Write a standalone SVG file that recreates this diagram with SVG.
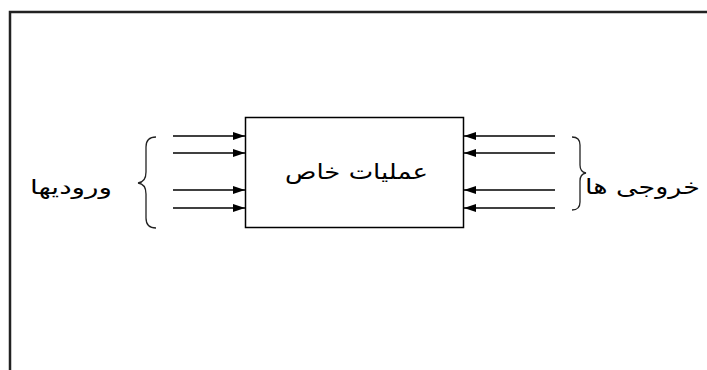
<svg xmlns="http://www.w3.org/2000/svg" width="707" height="370" viewBox="0 0 707 370">
<defs>
<marker id="ah" viewBox="0 0 12 8" refX="12" refY="4" markerWidth="12" markerHeight="8" markerUnits="userSpaceOnUse" orient="auto">
<path d="M0,0 L12,4 L0,8 Z" fill="#000"/>
</marker>
</defs>
<style>
.ln{stroke:#000;stroke-width:1.5;fill:none}
.br{stroke:#222;stroke-width:1.3;fill:none}
.t{font-family:"DejaVu Sans",sans-serif;fill:#000;direction:rtl}
</style>
<rect width="707" height="370" fill="#fff"/>
<g id="frame">
<path d="M10,370 V12 H707" stroke="#222" stroke-width="2.5" fill="none"/>
</g>
<g id="process">
<rect x="245.5" y="117.5" width="218" height="110" fill="#fff" stroke="#000" stroke-width="1.5"/>
<text class="t" x="356.5" y="179" font-size="21" text-anchor="middle" textLength="143" lengthAdjust="spacingAndGlyphs">عملیات خاص</text>
</g>
<g id="inputs">
<path class="br" d="M156,137 Q146,137 146,147 V172 Q146,182 138,183 Q146,184 146,194 V218 Q146,228 156,228"/>
<text class="t" x="71" y="194" font-size="20" text-anchor="middle" textLength="82" lengthAdjust="spacingAndGlyphs">ورودیها</text>
</g>
<g id="outputs">
<path class="br" d="M572,137 Q580,137 580,145 V165 Q580,172 586,173 Q580,174 580,181 V202 Q580,210 572,210"/>
<text class="t" x="642.5" y="194" font-size="21" text-anchor="middle" textLength="115" lengthAdjust="spacingAndGlyphs">خروجی ها</text>
</g>
<g id="connectors">
<line class="ln" x1="173" y1="136" x2="245" y2="136" marker-end="url(#ah)"/>
<line class="ln" x1="173" y1="153" x2="245" y2="153" marker-end="url(#ah)"/>
<line class="ln" x1="173" y1="190" x2="245" y2="190" marker-end="url(#ah)"/>
<line class="ln" x1="173" y1="208" x2="245" y2="208" marker-end="url(#ah)"/>
<line class="ln" x1="555" y1="136" x2="464" y2="136" marker-end="url(#ah)"/>
<line class="ln" x1="555" y1="153" x2="464" y2="153" marker-end="url(#ah)"/>
<line class="ln" x1="555" y1="190" x2="464" y2="190" marker-end="url(#ah)"/>
<line class="ln" x1="555" y1="208" x2="464" y2="208" marker-end="url(#ah)"/>
</g>
</svg>
